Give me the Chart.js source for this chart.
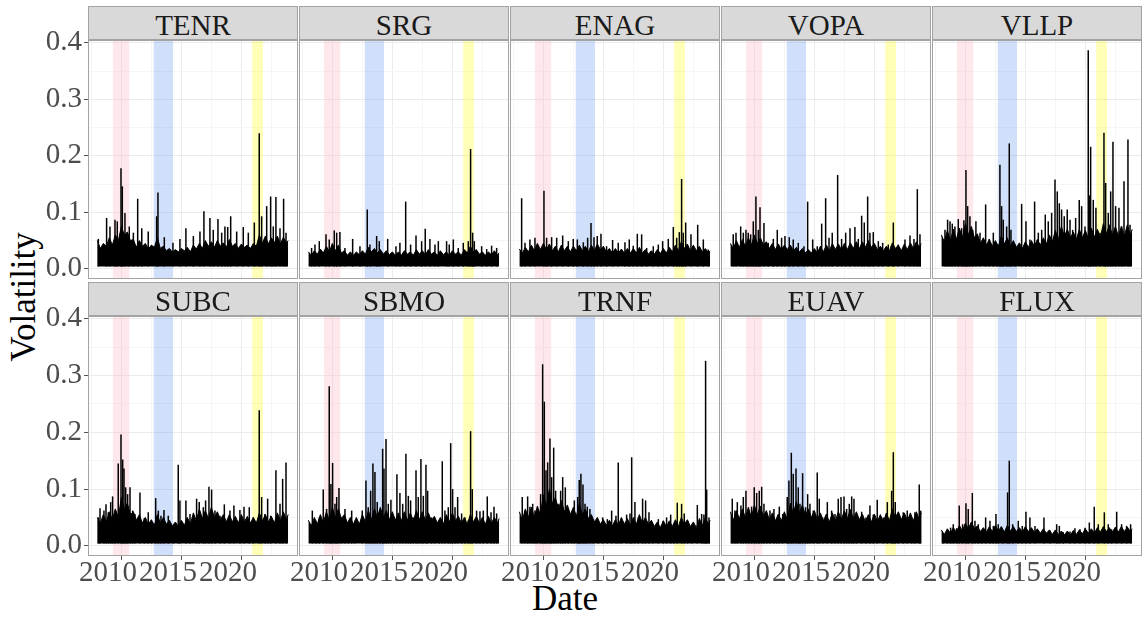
<!DOCTYPE html>
<html>
<head>
<meta charset="utf-8">
<script src="https://cdn.jsdelivr.net/npm/chart.js@4.4.1/dist/chart.umd.min.js"></script>
<style>
  body { margin: 0; background: #fff; width: 1144px; height: 621px; position: relative; overflow: hidden;
         font-family: 'Liberation Serif', 'Times New Roman', serif; }
  .strip { position: absolute; background: #d9d9d9; border: 1px solid #a3a3a3; box-sizing: border-box;
           color: #1a1a1a; font-size: 29px; line-height: 32px; padding-top: 2px; text-align: center; }
  canvas { position: absolute; }
  .ttl { position: absolute; font-size: 35px; line-height: 1; color: #000; white-space: nowrap;
         transform: translate(-50%, -50%); }
  #yTitle { transform: translate(-50%, -50%) rotate(-90deg); }
</style>
</head>
<body>
<div class="ttl" id="xTitle" style="left:565px; top:598px;">Date</div>
<div class="ttl" id="yTitle" style="left:23px; top:297px;">Volatility</div>
<script>
// panels in facet order
const tickers = ['TENR', 'SRG', 'ENAG', 'VOPA', 'VLLP', 'SUBC', 'SBMO', 'TRNF', 'EUAV', 'FLUX'];

// axis ticks
const xTicks = [2010, 2015, 2020];
const xGrid = [2007.5, 2010, 2012.5, 2015, 2017.5, 2020, 2022.5];
const yTicks = [0, 0.1, 0.2, 0.3, 0.4];
const yGrid = [0, 0.05, 0.1, 0.15, 0.2, 0.25, 0.3, 0.35, 0.4];

// shaded crisis periods (years)
const bandStart = [2008.0, 2011.4, 2019.6];
const bandEnd = [2009.35, 2013.0, 2020.5];

// dates of the dense band outline (quarterly)
const baseDates = [2006.7, 2006.95, 2007.2, 2007.45, 2007.7, 2007.95, 2008.2, 2008.45, 2008.7, 2008.95,
  2009.2, 2009.45, 2009.7, 2009.95, 2010.2, 2010.45, 2010.7, 2010.95, 2011.2, 2011.45,
  2011.7, 2011.95, 2012.2, 2012.45, 2012.7, 2012.95, 2013.2, 2013.45, 2013.7, 2013.95,
  2014.2, 2014.45, 2014.7, 2014.95, 2015.2, 2015.45, 2015.7, 2015.95, 2016.2, 2016.45,
  2016.7, 2016.95, 2017.2, 2017.45, 2017.7, 2017.95, 2018.2, 2018.45, 2018.7, 2018.95,
  2019.2, 2019.45, 2019.7, 2019.95, 2020.2, 2020.45, 2020.7, 2020.95, 2021.2, 2021.45,
  2021.7, 2021.95, 2022.2, 2022.45, 2022.6];

// TENR
const TENR_base = [0.05,0.036,0.045,0.04,0.055,0.042,0.06,0.05,0.075,0.06,
  0.065,0.05,0.052,0.038,0.05,0.04,0.045,0.035,0.042,0.038,
  0.055,0.036,0.04,0.032,0.036,0.03,0.034,0.03,0.036,0.032,
  0.038,0.03,0.042,0.035,0.045,0.036,0.05,0.04,0.048,0.038,
  0.05,0.04,0.046,0.038,0.052,0.04,0.045,0.036,0.044,0.038,
  0.042,0.036,0.045,0.04,0.06,0.045,0.058,0.044,0.055,0.046,
  0.058,0.044,0.056,0.046,0.05];
const TENR_peakDates = [2006.78,2007.47,2007.75,2008.17,2008.36,2008.67,2008.78,2009.0,2009.36,2009.7,2010.06,2010.4,2010.94,2011.64,2011.75,2012.28,2013.0,2013.58,2014.08,2014.7,2015.25,2015.58,2016.08,2016.36,2016.75,2017.06,2017.33,2017.56,2017.81,2018.31,2018.86,2019.28,2019.78,2020.19,2020.39,2020.81,2021.14,2021.36,2021.58,2021.92,2022.22,2022.42];
const TENR_peaks = [0.053,0.09,0.075,0.087,0.084,0.178,0.146,0.099,0.075,0.064,0.124,0.072,0.066,0.093,0.135,0.056,0.046,0.053,0.072,0.058,0.066,0.102,0.09,0.069,0.088,0.064,0.075,0.074,0.093,0.066,0.074,0.064,0.082,0.24,0.093,0.111,0.128,0.075,0.127,0.072,0.124,0.064];

// SRG
const SRG_base = [0.03,0.024,0.032,0.026,0.035,0.028,0.04,0.03,0.045,0.032,
  0.042,0.028,0.032,0.024,0.03,0.024,0.03,0.025,0.032,0.026,
  0.038,0.03,0.036,0.028,0.034,0.026,0.032,0.025,0.03,0.024,
  0.03,0.024,0.032,0.026,0.03,0.024,0.034,0.026,0.032,0.025,
  0.034,0.026,0.03,0.024,0.032,0.025,0.03,0.024,0.032,0.026,
  0.03,0.024,0.034,0.028,0.04,0.03,0.034,0.026,0.03,0.024,
  0.03,0.025,0.032,0.025,0.028];
const SRG_peakDates = [2006.97,2007.25,2007.61,2008.17,2008.44,2008.86,2009.06,2009.33,2009.75,2010.39,2011.0,2011.61,2011.83,2012.39,2012.61,2013.31,2014.0,2014.33,2014.81,2015.22,2015.67,2016.14,2016.44,2016.83,2017.25,2017.53,2018.22,2018.44,2018.78,2019.19,2019.61,2020.03,2020.22,2020.39,2020.53,2021.14,2021.56,2021.97,2022.39];
const SRG_peaks = [0.037,0.043,0.049,0.061,0.052,0.068,0.064,0.065,0.037,0.053,0.04,0.105,0.043,0.058,0.049,0.053,0.04,0.046,0.119,0.043,0.059,0.049,0.071,0.053,0.043,0.049,0.049,0.043,0.052,0.037,0.046,0.049,0.212,0.064,0.049,0.04,0.035,0.041,0.037];

// ENAG
const ENAG_base = [0.035,0.028,0.038,0.03,0.042,0.032,0.045,0.034,0.045,0.034,
  0.044,0.032,0.04,0.03,0.042,0.032,0.04,0.03,0.04,0.032,
  0.042,0.032,0.04,0.03,0.042,0.032,0.044,0.034,0.04,0.03,
  0.036,0.028,0.036,0.028,0.035,0.028,0.036,0.028,0.036,0.028,
  0.038,0.028,0.034,0.026,0.032,0.026,0.034,0.027,0.036,0.028,
  0.038,0.03,0.042,0.032,0.048,0.036,0.044,0.032,0.042,0.032,
  0.04,0.03,0.036,0.028,0.032];
const ENAG_peakDates = [2006.89,2007.17,2007.58,2008.0,2008.75,2008.97,2009.39,2009.81,2010.31,2010.78,2011.19,2011.53,2012.03,2012.39,2012.67,2012.92,2013.19,2013.5,2013.97,2014.47,2014.94,2015.5,2015.86,2016.19,2016.53,2016.89,2017.31,2017.86,2018.28,2018.64,2019.11,2019.53,2019.81,2020.03,2020.22,2020.36,2020.56,2021.0,2021.56,2022.03,2022.44];
const ENAG_peaks = [0.125,0.046,0.052,0.055,0.138,0.055,0.056,0.055,0.059,0.049,0.053,0.052,0.047,0.055,0.081,0.056,0.058,0.062,0.04,0.051,0.046,0.047,0.052,0.041,0.062,0.061,0.037,0.04,0.043,0.049,0.053,0.074,0.055,0.065,0.159,0.064,0.082,0.061,0.078,0.052,0.034];

// VOPA
const VOPA_base = [0.045,0.036,0.05,0.038,0.052,0.04,0.055,0.042,0.06,0.045,
  0.055,0.042,0.048,0.036,0.045,0.034,0.044,0.034,0.042,0.034,
  0.042,0.032,0.038,0.03,0.036,0.028,0.034,0.028,0.036,0.028,
  0.04,0.03,0.042,0.032,0.045,0.034,0.044,0.034,0.045,0.034,
  0.046,0.036,0.048,0.036,0.048,0.038,0.05,0.038,0.045,0.034,
  0.04,0.032,0.04,0.032,0.046,0.036,0.042,0.032,0.044,0.034,
  0.046,0.036,0.048,0.038,0.045];
const VOPA_peakDates = [2006.94,2007.17,2007.56,2007.78,2008.0,2008.19,2008.39,2008.61,2008.83,2009.03,2009.17,2009.5,2009.86,2010.28,2010.61,2010.97,2011.25,2011.61,2011.94,2012.36,2012.83,2013.14,2013.56,2013.94,2014.31,2014.64,2014.92,2015.19,2015.64,2015.97,2016.31,2016.67,2017.08,2017.36,2017.64,2017.86,2018.14,2018.33,2018.61,2019.03,2019.39,2019.86,2020.28,2020.69,2021.25,2021.67,2022.0,2022.28,2022.5];
const VOPA_peaks = [0.061,0.064,0.075,0.064,0.069,0.064,0.061,0.084,0.128,0.069,0.109,0.081,0.046,0.053,0.069,0.055,0.058,0.056,0.052,0.046,0.04,0.119,0.052,0.04,0.08,0.125,0.055,0.064,0.166,0.053,0.064,0.072,0.074,0.053,0.094,0.082,0.128,0.064,0.065,0.049,0.046,0.043,0.082,0.043,0.052,0.059,0.053,0.141,0.061];

// VLLP
const VLLP_base = [0.06,0.048,0.068,0.05,0.07,0.052,0.072,0.055,0.08,0.06,
  0.075,0.055,0.062,0.045,0.055,0.042,0.052,0.04,0.05,0.04,
  0.058,0.044,0.055,0.04,0.05,0.038,0.046,0.036,0.048,0.038,
  0.05,0.04,0.052,0.042,0.055,0.044,0.06,0.048,0.068,0.052,
  0.075,0.058,0.07,0.055,0.065,0.052,0.07,0.055,0.068,0.054,
  0.072,0.056,0.07,0.056,0.08,0.062,0.078,0.06,0.075,0.058,
  0.075,0.058,0.078,0.06,0.07];
const VLLP_peakDates = [2007.0,2007.22,2007.42,2007.61,2007.83,2008.11,2008.39,2008.58,2008.75,2008.89,2009.08,2009.31,2009.58,2009.92,2010.39,2010.69,2011.03,2011.36,2011.58,2011.72,2011.86,2012.14,2012.36,2012.5,2012.83,2013.39,2013.75,2014.08,2014.47,2014.78,2015.06,2015.36,2015.61,2015.89,2016.17,2016.36,2016.53,2016.72,2016.94,2017.19,2017.42,2017.64,2017.89,2018.19,2018.39,2018.67,2018.94,2019.03,2019.14,2019.36,2019.58,2019.92,2020.25,2020.39,2020.61,2020.81,2021.0,2021.22,2021.5,2021.72,2021.92,2022.25,2022.42];
const VLLP_peaks = [0.069,0.087,0.084,0.08,0.075,0.088,0.072,0.086,0.175,0.111,0.093,0.069,0.084,0.064,0.114,0.053,0.064,0.04,0.184,0.111,0.087,0.075,0.222,0.069,0.043,0.115,0.084,0.052,0.119,0.064,0.069,0.096,0.084,0.099,0.158,0.137,0.116,0.105,0.093,0.105,0.087,0.069,0.09,0.122,0.111,0.075,0.387,0.13,0.216,0.122,0.108,0.064,0.241,0.152,0.099,0.137,0.225,0.111,0.108,0.075,0.155,0.229,0.078];

// SUBC
const SUBC_base = [0.05,0.04,0.055,0.042,0.06,0.046,0.065,0.05,0.085,0.065,
  0.075,0.055,0.06,0.045,0.055,0.04,0.05,0.038,0.046,0.036,
  0.055,0.04,0.05,0.038,0.045,0.035,0.042,0.034,0.045,0.036,
  0.05,0.038,0.058,0.044,0.065,0.048,0.062,0.048,0.068,0.05,
  0.06,0.046,0.055,0.042,0.055,0.042,0.052,0.04,0.055,0.042,
  0.052,0.04,0.05,0.04,0.058,0.044,0.055,0.042,0.052,0.04,
  0.058,0.044,0.06,0.046,0.055];
const SUBC_peakDates = [2006.78,2006.92,2007.25,2007.42,2007.61,2007.81,2007.97,2008.17,2008.44,2008.67,2008.81,2008.92,2009.06,2009.22,2009.42,2009.64,2009.83,2010.25,2010.61,2010.94,2011.22,2011.56,2011.78,2012.0,2012.25,2012.61,2013.03,2013.44,2013.58,2014.08,2014.42,2014.97,2015.19,2015.53,2015.72,2016.0,2016.22,2016.5,2016.92,2017.28,2017.75,2018.08,2018.58,2018.92,2019.36,2019.69,2020.19,2020.39,2020.67,2020.89,2021.14,2021.58,2021.92,2022.14,2022.42];
const SUBC_peaks = [0.05,0.066,0.062,0.073,0.059,0.077,0.087,0.062,0.145,0.196,0.152,0.136,0.103,0.091,0.103,0.062,0.056,0.094,0.049,0.059,0.035,0.084,0.062,0.053,0.063,0.053,0.035,0.143,0.08,0.08,0.056,0.083,0.077,0.068,0.08,0.104,0.099,0.062,0.053,0.073,0.062,0.071,0.063,0.069,0.068,0.05,0.239,0.086,0.056,0.083,0.053,0.133,0.074,0.118,0.147];

// SBMO
const SBMO_base = [0.045,0.035,0.05,0.038,0.055,0.04,0.06,0.045,0.068,0.05,
  0.065,0.048,0.055,0.04,0.05,0.038,0.05,0.038,0.055,0.042,
  0.062,0.046,0.065,0.05,0.068,0.05,0.062,0.046,0.06,0.045,
  0.058,0.044,0.06,0.045,0.058,0.044,0.062,0.046,0.06,0.045,
  0.058,0.044,0.052,0.04,0.05,0.038,0.055,0.042,0.058,0.044,
  0.052,0.04,0.05,0.038,0.055,0.042,0.052,0.04,0.05,0.038,
  0.052,0.04,0.05,0.04,0.048];
const SBMO_peakDates = [2007.03,2007.33,2007.61,2007.94,2008.22,2008.44,2008.58,2008.72,2008.92,2009.06,2009.25,2009.47,2009.75,2010.03,2010.31,2010.58,2011.19,2011.5,2011.69,2011.89,2012.08,2012.25,2012.44,2012.67,2012.89,2013.0,2013.17,2013.36,2013.58,2013.86,2014.08,2014.33,2014.56,2014.83,2015.03,2015.22,2015.44,2015.67,2015.86,2016.08,2016.28,2016.5,2016.64,2016.97,2017.25,2017.61,2017.86,2018.08,2018.36,2018.56,2018.72,2018.92,2019.14,2019.47,2019.75,2020.03,2020.22,2020.36,2020.72,2021.0,2021.28,2021.61,2021.92,2022.17,2022.39];
const SBMO_peaks = [0.062,0.044,0.05,0.099,0.065,0.281,0.109,0.146,0.074,0.086,0.102,0.05,0.065,0.038,0.062,0.044,0.062,0.115,0.068,0.097,0.145,0.13,0.077,0.062,0.171,0.136,0.188,0.074,0.081,0.05,0.126,0.093,0.074,0.162,0.088,0.08,0.05,0.133,0.086,0.153,0.088,0.143,0.097,0.05,0.047,0.044,0.149,0.062,0.068,0.181,0.1,0.068,0.086,0.057,0.05,0.045,0.202,0.1,0.062,0.061,0.062,0.087,0.059,0.069,0.057];

// TRNF
const TRNF_base = [0.06,0.045,0.065,0.05,0.068,0.05,0.07,0.055,0.09,0.07,
  0.1,0.075,0.085,0.065,0.08,0.06,0.072,0.055,0.068,0.052,
  0.075,0.055,0.065,0.048,0.055,0.042,0.05,0.038,0.046,0.036,
  0.045,0.035,0.046,0.036,0.05,0.038,0.048,0.036,0.05,0.038,
  0.055,0.04,0.05,0.038,0.045,0.034,0.042,0.032,0.044,0.034,
  0.044,0.034,0.046,0.034,0.05,0.038,0.046,0.034,0.042,0.032,
  0.048,0.036,0.05,0.038,0.045];
const TRNF_peakDates = [2006.94,2007.17,2007.39,2007.58,2007.81,2008.0,2008.19,2008.47,2008.64,2008.78,2008.92,2009.06,2009.25,2009.39,2009.56,2009.72,2009.94,2010.14,2010.31,2010.53,2010.78,2011.06,2011.28,2011.56,2011.69,2011.83,2012.0,2012.17,2012.36,2012.58,2012.86,2013.28,2013.64,2014.03,2014.39,2014.75,2014.94,2015.17,2015.64,2015.92,2016.06,2016.33,2016.61,2016.97,2017.22,2017.5,2017.81,2018.28,2018.69,2018.97,2019.31,2019.58,2019.86,2020.22,2020.44,2020.72,2021.06,2021.53,2021.89,2022.08,2022.22,2022.31,2022.5];
const TRNF_peaks = [0.086,0.062,0.087,0.069,0.074,0.062,0.053,0.091,0.32,0.254,0.133,0.147,0.189,0.121,0.173,0.097,0.074,0.097,0.121,0.103,0.065,0.059,0.08,0.086,0.116,0.127,0.108,0.074,0.069,0.065,0.047,0.044,0.05,0.047,0.062,0.053,0.147,0.044,0.055,0.057,0.156,0.077,0.05,0.083,0.08,0.059,0.038,0.047,0.044,0.05,0.055,0.038,0.076,0.074,0.057,0.044,0.035,0.072,0.056,0.055,0.326,0.099,0.05];

// EUAV
const EUAV_base = [0.06,0.045,0.062,0.048,0.065,0.05,0.068,0.05,0.072,0.055,
  0.07,0.052,0.062,0.046,0.058,0.044,0.056,0.044,0.06,0.046,
  0.075,0.056,0.078,0.058,0.072,0.054,0.065,0.05,0.062,0.046,
  0.058,0.044,0.056,0.042,0.058,0.044,0.06,0.046,0.062,0.048,
  0.064,0.048,0.06,0.046,0.056,0.042,0.055,0.042,0.056,0.043,
  0.055,0.042,0.058,0.044,0.065,0.05,0.06,0.046,0.058,0.044,
  0.058,0.044,0.06,0.046,0.058];
const EUAV_peakDates = [2006.86,2007.08,2007.28,2007.58,2007.78,2008.0,2008.25,2008.47,2008.69,2008.89,2009.11,2009.31,2009.5,2009.72,2010.0,2010.33,2010.56,2010.78,2011.06,2011.44,2011.58,2011.78,2011.94,2012.17,2012.36,2012.5,2012.72,2012.97,2013.14,2013.33,2013.61,2013.94,2014.11,2014.39,2014.78,2015.14,2015.42,2015.69,2015.92,2016.17,2016.39,2016.61,2016.81,2017.0,2017.22,2017.64,2018.0,2018.33,2018.61,2018.94,2019.44,2019.78,2020.14,2020.28,2020.44,2020.69,2021.11,2021.44,2021.81,2022.08,2022.44,2022.56];
const EUAV_peaks = [0.083,0.062,0.077,0.071,0.086,0.097,0.053,0.069,0.103,0.093,0.097,0.104,0.074,0.056,0.062,0.065,0.044,0.069,0.056,0.086,0.115,0.164,0.127,0.136,0.103,0.074,0.128,0.068,0.091,0.074,0.062,0.129,0.083,0.05,0.077,0.062,0.056,0.083,0.086,0.087,0.065,0.074,0.087,0.083,0.044,0.06,0.05,0.071,0.055,0.081,0.05,0.077,0.097,0.165,0.077,0.05,0.059,0.062,0.044,0.059,0.108,0.062];

// FLUX
const FLUX_base = [0.028,0.02,0.03,0.022,0.032,0.024,0.036,0.026,0.04,0.03,
  0.042,0.03,0.035,0.025,0.032,0.024,0.034,0.025,0.036,0.026,
  0.034,0.024,0.036,0.026,0.034,0.025,0.032,0.024,0.034,0.025,
  0.032,0.024,0.03,0.022,0.03,0.022,0.028,0.02,0.028,0.02,
  0.026,0.019,0.026,0.019,0.027,0.02,0.028,0.021,0.03,0.022,
  0.03,0.022,0.032,0.024,0.034,0.025,0.032,0.024,0.033,0.024,
  0.034,0.025,0.033,0.025,0.03];
const FLUX_peakDates = [2006.86,2007.19,2007.47,2007.69,2007.97,2008.19,2008.47,2008.75,2008.94,2009.28,2009.5,2009.78,2010.06,2010.39,2010.75,2011.03,2011.25,2011.44,2011.81,2012.22,2012.36,2012.64,2013.11,2013.44,2013.75,2014.08,2014.5,2015.25,2015.75,2016.31,2016.53,2016.86,2017.42,2017.83,2018.25,2018.67,2019.03,2019.44,2019.78,2020.28,2020.61,2020.89,2021.31,2021.72,2022.14,2022.47];
const FLUX_peaks = [0.021,0.027,0.032,0.038,0.031,0.071,0.038,0.075,0.065,0.093,0.044,0.038,0.027,0.05,0.044,0.035,0.056,0.038,0.027,0.094,0.15,0.038,0.044,0.035,0.06,0.05,0.035,0.05,0.027,0.038,0.035,0.024,0.025,0.031,0.029,0.032,0.041,0.069,0.038,0.059,0.038,0.029,0.06,0.038,0.035,0.038];

const panelData = {
  TENR: [TENR_base, TENR_peakDates, TENR_peaks],
  SRG: [SRG_base, SRG_peakDates, SRG_peaks],
  ENAG: [ENAG_base, ENAG_peakDates, ENAG_peaks],
  VOPA: [VOPA_base, VOPA_peakDates, VOPA_peaks],
  VLLP: [VLLP_base, VLLP_peakDates, VLLP_peaks],
  SUBC: [SUBC_base, SUBC_peakDates, SUBC_peaks],
  SBMO: [SBMO_base, SBMO_peakDates, SBMO_peaks],
  TRNF: [TRNF_base, TRNF_peakDates, TRNF_peaks],
  EUAV: [EUAV_base, EUAV_peakDates, EUAV_peaks],
  FLUX: [FLUX_base, FLUX_peakDates, FLUX_peaks]
};

// layout
const colLeft = [88, 299, 510, 721, 932];
const panelW = 210;
const rows = [
  { stripTop: 6, plotTop: 40, plotH: 239 },
  { stripTop: 282, plotTop: 316, plotH: 240 }
];
const axisW = 88, axisH = 40, padTop = 20;
const floorVal = 0.004;
const bandColors = ['rgba(255,192,203,0.36)', 'rgba(100,149,237,0.3)', 'rgba(255,255,0,0.28)'];
const serif = "'Liberation Serif', 'Times New Roman', serif";

Chart.defaults.font.family = serif;

const bandsPlugin = {
  id: 'crisisBands',
  beforeDatasetsDraw(chart) {
    const ctx = chart.ctx, area = chart.chartArea, x = chart.scales.x;
    ctx.save();
    for (let k = 0; k < bandStart.length; k++) {
      const x1 = x.getPixelForValue(bandStart[k]);
      const x2 = x.getPixelForValue(bandEnd[k]);
      ctx.fillStyle = bandColors[k];
      ctx.fillRect(x1, area.top, x2 - x1, area.bottom - area.top);
    }
    ctx.restore();
  }
};

const framePlugin = {
  id: 'panelFrame',
  afterDatasetsDraw(chart) {
    const ctx = chart.ctx, a = chart.chartArea;
    ctx.save();
    ctx.strokeStyle = '#a3a3a3';
    ctx.lineWidth = 1;
    ctx.strokeRect(a.left + 0.5, a.top + 0.5, a.right - a.left - 1, a.bottom - a.top - 1);
    ctx.restore();
  }
};

tickers.forEach(function (name, i) {
  const col = i % 5, row = Math.floor(i / 5);
  const r = rows[row];
  const left = colLeft[col];
  const showX = row === 1, showY = col === 0;

  const strip = document.createElement('div');
  strip.className = 'strip';
  strip.textContent = name;
  strip.style.left = left + 'px';
  strip.style.top = r.stripTop + 'px';
  strip.style.width = panelW + 'px';
  strip.style.height = (r.plotTop - r.stripTop) + 'px';
  document.body.appendChild(strip);

  const canvas = document.createElement('canvas');
  canvas.width = axisW + panelW;
  canvas.height = padTop + r.plotH + axisH;
  canvas.style.left = (left - axisW) + 'px';
  canvas.style.top = (r.plotTop - padTop) + 'px';
  canvas.style.width = canvas.width + 'px';
  canvas.style.height = canvas.height + 'px';
  document.body.appendChild(canvas);

  const d = panelData[name];
  const baseLine = baseDates.map((t, k) => ({ x: t, y: d[0][k] }));
  const peaks = d[1].map((t, k) => ({ x: t, y: [floorVal, d[2][k]] }));

  new Chart(canvas, {
    type: 'line',
    data: {
      datasets: [
        {
          type: 'bar',
          data: peaks,
          backgroundColor: '#000',
          borderWidth: 0,
          barThickness: 1.5,
          inflateAmount: 0
        },
        {
          type: 'line',
          data: baseLine,
          borderColor: '#000',
          backgroundColor: '#000',
          borderWidth: 1,
          pointRadius: 0,
          tension: 0,
          fill: { value: floorVal }
        }
      ]
    },
    options: {
      responsive: false,
      animation: false,
      events: [],
      layout: { padding: { top: padTop, left: 0, right: 0, bottom: 0 }, autoPadding: false },
      plugins: { legend: { display: false }, tooltip: { enabled: false } },
      scales: {
        x: {
          type: 'linear',
          min: 2005.92,
          max: 2023.42,
          offset: false,
          afterBuildTicks: s => { s.ticks = xGrid.map(v => ({ value: v })); },
          afterFit: s => { s.height = axisH; s.paddingLeft = 0; s.paddingRight = 0; },
          border: { display: false },
          grid: {
            color: c => (c.tick && xTicks.includes(c.tick.value)) ? '#ebebeb' : '#f5f5f5',
            drawTicks: showX,
            tickLength: 4,
            tickColor: c => (c.tick && xTicks.includes(c.tick.value)) ? '#555555' : 'rgba(0,0,0,0)'
          },
          ticks: {
            display: showX,
            autoSkip: false,
            maxRotation: 0,
            align: 'end',
            padding: -1,
            color: '#4d4d4d',
            font: { family: serif, size: 29, lineHeight: 1 },
            callback: v => xTicks.includes(v) ? String(v) : ''
          }
        },
        y: {
          type: 'linear',
          min: -0.018,
          max: 0.405,
          afterBuildTicks: s => { s.ticks = yGrid.map(v => ({ value: v })); },
          afterFit: s => { s.width = axisW; s.paddingTop = 0; s.paddingBottom = 0; },
          border: { display: false },
          grid: {
            color: c => (c.tick && yTicks.includes(c.tick.value)) ? '#ebebeb' : '#f5f5f5',
            drawTicks: showY,
            tickLength: 4,
            tickColor: c => (c.tick && yTicks.includes(c.tick.value)) ? '#555555' : 'rgba(0,0,0,0)'
          },
          ticks: {
            display: showY,
            autoSkip: false,
            padding: 2,
            color: '#4d4d4d',
            font: { family: serif, size: 29, lineHeight: 1 },
            callback: v => yTicks.includes(v) ? v.toFixed(1) : ''
          }
        }
      }
    },
    plugins: [bandsPlugin, framePlugin]
  });
});
</script>
</body>
</html>
